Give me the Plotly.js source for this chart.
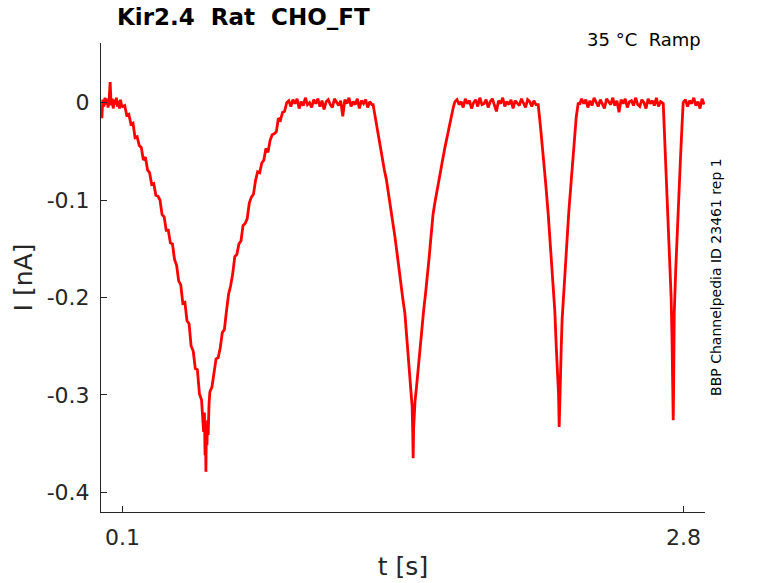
<!DOCTYPE html>
<html>
<head>
<meta charset="utf-8">
<script src="https://cdn.plot.ly/plotly-3.0.1.min.js"></script>
<style>
  html, body { margin: 0; padding: 0; background: #fff; }
  #chart { width: 778px; height: 583px; }
</style>
</head>
<body>
<div id="chart"></div>
<script>
// Data (t in s, I in nA)

// holding level before the first ramp
const base0T = [0, 0.005, 0.01, 0.015, 0.02, 0.025, 0.03, 0.035, 0.04, 0.045,
  0.05, 0.055, 0.06, 0.065, 0.07, 0.075, 0.08, 0.085, 0.09, 0.095];
const base0I = [-0.016, 0.003, -0.004, 0.005, -0.002, 0.004, -0.005, 0.002, 0.021, -0.003,
  0.004, -0.006, 0.003, -0.002, 0.005, -0.004, 0.002, -0.006, 0.003, -0.003];

// ramp 1 (slow)
const ramp1T = [0.10, 0.11, 0.12, 0.13, 0.14, 0.15, 0.16, 0.17, 0.18, 0.19,
  0.20, 0.21, 0.22, 0.23, 0.24, 0.25, 0.26, 0.27, 0.28, 0.29,
  0.30, 0.31, 0.32, 0.33, 0.34, 0.35, 0.36, 0.37, 0.38, 0.39,
  0.40, 0.41, 0.42, 0.43, 0.44, 0.45, 0.46, 0.47, 0.48, 0.49,
  0.494, 0.497, 0.499, 0.501, 0.503, 0.506, 0.509, 0.512, 0.516,
  0.52, 0.53, 0.54, 0.55, 0.56, 0.57, 0.58, 0.59, 0.60, 0.61,
  0.62, 0.63, 0.64, 0.65, 0.66, 0.67, 0.68, 0.69, 0.70, 0.71,
  0.72, 0.73, 0.74, 0.75, 0.76, 0.77, 0.78, 0.79, 0.80, 0.81,
  0.82, 0.83, 0.84, 0.85, 0.86, 0.87, 0.88, 0.89];
const ramp1I = [-0.004, -0.003, -0.013, -0.012, -0.022, -0.021, -0.036, -0.035, -0.044, -0.046,
  -0.059, -0.056, -0.069, -0.072, -0.084, -0.083, -0.095, -0.096, -0.100, -0.115,
  -0.117, -0.131, -0.131, -0.144, -0.145, -0.161, -0.167, -0.183, -0.187, -0.206,
  -0.205, -0.224, -0.227, -0.250, -0.255, -0.273, -0.274, -0.299, -0.305, -0.338,
  -0.318, -0.362, -0.336, -0.379, -0.341, -0.352, -0.326, -0.341, -0.310,
  -0.297, -0.292, -0.275, -0.263, -0.262, -0.252, -0.236, -0.233, -0.214, -0.197,
  -0.188, -0.176, -0.158, -0.156, -0.145, -0.142, -0.126, -0.124, -0.119, -0.103,
  -0.097, -0.094, -0.080, -0.071, -0.072, -0.062, -0.059, -0.047, -0.051, -0.039,
  -0.033, -0.032, -0.030, -0.016, -0.018, -0.010, -0.009, 0.000];

const base1T = [0.90, 0.91, 0.92, 0.93, 0.94, 0.95, 0.96, 0.97, 0.98, 0.99,
  1.00, 1.01, 1.02, 1.03, 1.04, 1.05, 1.06, 1.07, 1.08, 1.09,
  1.10, 1.11, 1.12, 1.13, 1.14, 1.15, 1.16, 1.17, 1.18, 1.19,
  1.20, 1.21, 1.22, 1.23, 1.24, 1.25, 1.26, 1.27, 1.28, 1.29, 1.30];
const base1I = [0.002, -0.004, 0.003, -0.001, 0.004, -0.006, 0.001, -0.003, 0.005, -0.002,
  0.000, -0.005, 0.003, -0.001, 0.004, -0.004, 0.002, -0.007, 0.001, 0.003,
  -0.002, -0.005, 0.004, 0.000, -0.003, 0.002, -0.014, 0.003, -0.001, 0.005,
  -0.004, 0.001, -0.002, 0.004, -0.006, 0.002, -0.001, 0.003, -0.005, 0.001, -0.002];

// ramp 2
const ramp2T = [1.306, 1.315, 1.325, 1.339, 1.35, 1.36, 1.37, 1.378, 1.39, 1.40,
  1.41, 1.421, 1.43, 1.44, 1.45, 1.459, 1.467, 1.475, 1.484, 1.490,
  1.494, 1.497, 1.499, 1.501, 1.504, 1.508, 1.515, 1.523, 1.532, 1.54,
  1.55, 1.558, 1.566, 1.575, 1.585, 1.595, 1.605, 1.615, 1.627, 1.638,
  1.65, 1.66, 1.67, 1.677, 1.685, 1.693, 1.70];
const ramp2I = [-0.002, -0.013, -0.027, -0.046, -0.055, -0.069, -0.079, -0.090, -0.105, -0.122,
  -0.136, -0.154, -0.170, -0.190, -0.203, -0.216, -0.238, -0.255, -0.278, -0.295,
  -0.312, -0.340, -0.365, -0.335, -0.318, -0.306, -0.292, -0.272, -0.251, -0.232,
  -0.212, -0.197, -0.182, -0.161, -0.137, -0.114, -0.101, -0.088, -0.075, -0.062,
  -0.048, -0.038, -0.026, -0.018, -0.010, -0.004, 0.001];

const base2T = [1.71, 1.72, 1.73, 1.74, 1.75, 1.76, 1.77, 1.78, 1.79, 1.80,
  1.81, 1.82, 1.83, 1.84, 1.85, 1.86, 1.87, 1.88, 1.89, 1.90,
  1.91, 1.92, 1.93, 1.94, 1.95, 1.96, 1.97, 1.98, 1.99, 2.00,
  2.01, 2.02, 2.03, 2.04, 2.05, 2.06, 2.07, 2.08, 2.09];
const base2I = [0.003, -0.002, 0.001, -0.005, 0.004, -0.001, 0.002, -0.006, 0.000, 0.003,
  -0.004, 0.005, -0.002, -0.001, 0.003, -0.005, 0.001, 0.004, -0.003, -0.009,
  0.002, -0.001, 0.005, -0.004, 0.001, -0.002, 0.003, -0.006, 0.002, 0.000,
  -0.003, 0.004, -0.001, -0.005, 0.003, 0.001, -0.004, 0.002, -0.002];

// ramp 3
const ramp3T = [2.101, 2.112, 2.125, 2.137, 2.149, 2.161, 2.173, 2.181, 2.188, 2.195,
  2.199, 2.202, 2.205, 2.208, 2.212, 2.216, 2.226, 2.236, 2.248, 2.260,
  2.272, 2.284, 2.294];
const ramp3I = [-0.002, -0.025, -0.052, -0.083, -0.114, -0.148, -0.182, -0.214, -0.251, -0.278,
  -0.300, -0.333, -0.300, -0.278, -0.250, -0.223, -0.185, -0.148, -0.113, -0.080,
  -0.045, -0.015, 0.000];

const base3T = [2.30, 2.31, 2.32, 2.33, 2.34, 2.35, 2.36, 2.37, 2.38, 2.39,
  2.40, 2.41, 2.42, 2.43, 2.44, 2.45, 2.46, 2.47, 2.48, 2.49,
  2.50, 2.51, 2.52, 2.53, 2.54, 2.55, 2.56, 2.57, 2.58, 2.59,
  2.60, 2.61, 2.62, 2.63, 2.64, 2.65, 2.66, 2.67, 2.68, 2.69];
const base3I = [-0.002, 0.004, -0.001, 0.003, -0.005, 0.002, -0.003, 0.005, 0.000, -0.004,
  0.003, -0.001, -0.006, 0.004, 0.001, -0.002, 0.005, -0.003, 0.002, -0.010,
  0.003, -0.001, 0.004, -0.005, 0.001, 0.002, -0.003, 0.005, -0.002, -0.004,
  0.003, 0.000, -0.006, 0.004, -0.001, 0.002, -0.003, 0.005, -0.004, 0.001];

// ramp 4 (fast)
const ramp4T = [2.703, 2.712, 2.72, 2.727, 2.734, 2.741, 2.745, 2.748, 2.751, 2.753,
  2.756, 2.763, 2.770, 2.778, 2.785, 2.793, 2.799];
const ramp4I = [-0.001, -0.046, -0.085, -0.121, -0.160, -0.200, -0.240, -0.280, -0.326, -0.290,
  -0.216, -0.172, -0.131, -0.095, -0.062, -0.025, 0.000];

const base4T = [2.81, 2.82, 2.83, 2.84, 2.85, 2.86, 2.87, 2.88, 2.89, 2.90];
const base4I = [0.003, -0.004, 0.002, -0.001, 0.005, -0.003, 0.001, -0.006, 0.004, -0.002];

// Ticks
const xTickVals = [0.1, 2.8];
const xTickText = ["0.1", "2.8"];
const yTickVals = [-0.4, -0.3, -0.2, -0.1, 0];
const yTickText = ["-0.4", "-0.3", "-0.2", "-0.1", "0"];

// Texts
const titleText = "Kir2.4  Rat  CHO_FT";
const condText = "35 °C  Ramp";
const sourceText = "BBP Channelpedia ID 23461 rep 1";

const timeS = [].concat(base0T, ramp1T, base1T, ramp2T, base2T, ramp3T, base3T, ramp4T, base4T);
const currentNA = [].concat(base0I, ramp1I, base1I, ramp2I, base2I, ramp3I, base3I, ramp4I, base4I);

const FONT = "DejaVu Sans, Liberation Sans, sans-serif";
const AXIS_COLOR = "#262626";

const trace = {
  x: timeS,
  y: currentNA,
  type: "scatter",
  mode: "lines",
  line: { color: "#ff0000", width: 2.8 },
  hoverinfo: "skip",
};

const axisCommon = {
  showline: true,
  linecolor: AXIS_COLOR,
  linewidth: 1,
  mirror: false,
  ticks: "inside",
  ticklen: 6,
  tickwidth: 1,
  tickcolor: AXIS_COLOR,
  showgrid: false,
  zeroline: false,
  tickmode: "array",
  tickfont: { family: FONT, size: 22, color: AXIS_COLOR },
};

const layout = {
  width: 778,
  height: 583,
  margin: { l: 101, r: 73, t: 43, b: 71 },
  paper_bgcolor: "#ffffff",
  plot_bgcolor: "#ffffff",
  showlegend: false,
  xaxis: Object.assign({}, axisCommon, {
    range: [-0.004, 2.904],
    tickvals: xTickVals,
    ticktext: xTickText,
    ticklabelstandoff: 6,
    title: { text: "t [s]", font: { family: FONT, size: 25, color: AXIS_COLOR }, standoff: 8 },
  }),
  yaxis: Object.assign({}, axisCommon, {
    range: [-0.4202, 0.0612],
    tickvals: yTickVals,
    ticktext: yTickText,
    ticklabelstandoff: 6,
    title: { text: "I [nA]", font: { family: FONT, size: 25, color: AXIS_COLOR }, standoff: 6 },
  }),
  annotations: [
    {
      text: "<b>" + titleText + "</b>",
      xref: "paper", yref: "paper",
      x: 0.0232, y: 1.055,
      xanchor: "left", yanchor: "middle",
      showarrow: false,
      font: { family: FONT, size: 23, color: "#000000" },
    },
    {
      text: condText,
      xref: "paper", yref: "paper",
      x: 0.9967, y: 1.007,
      xanchor: "right", yanchor: "middle",
      showarrow: false,
      font: { family: FONT, size: 18, color: "#000000" },
    },
    {
      text: sourceText,
      xref: "paper", yref: "paper",
      x: 1.018, y: 0.501,
      xanchor: "center", yanchor: "middle",
      textangle: -90,
      showarrow: false,
      font: { family: FONT, size: 14, color: "#000000" },
    },
  ],
};

Plotly.newPlot("chart", [trace], layout, { staticPlot: true, displayModeBar: false });
</script>
</body>
</html>
